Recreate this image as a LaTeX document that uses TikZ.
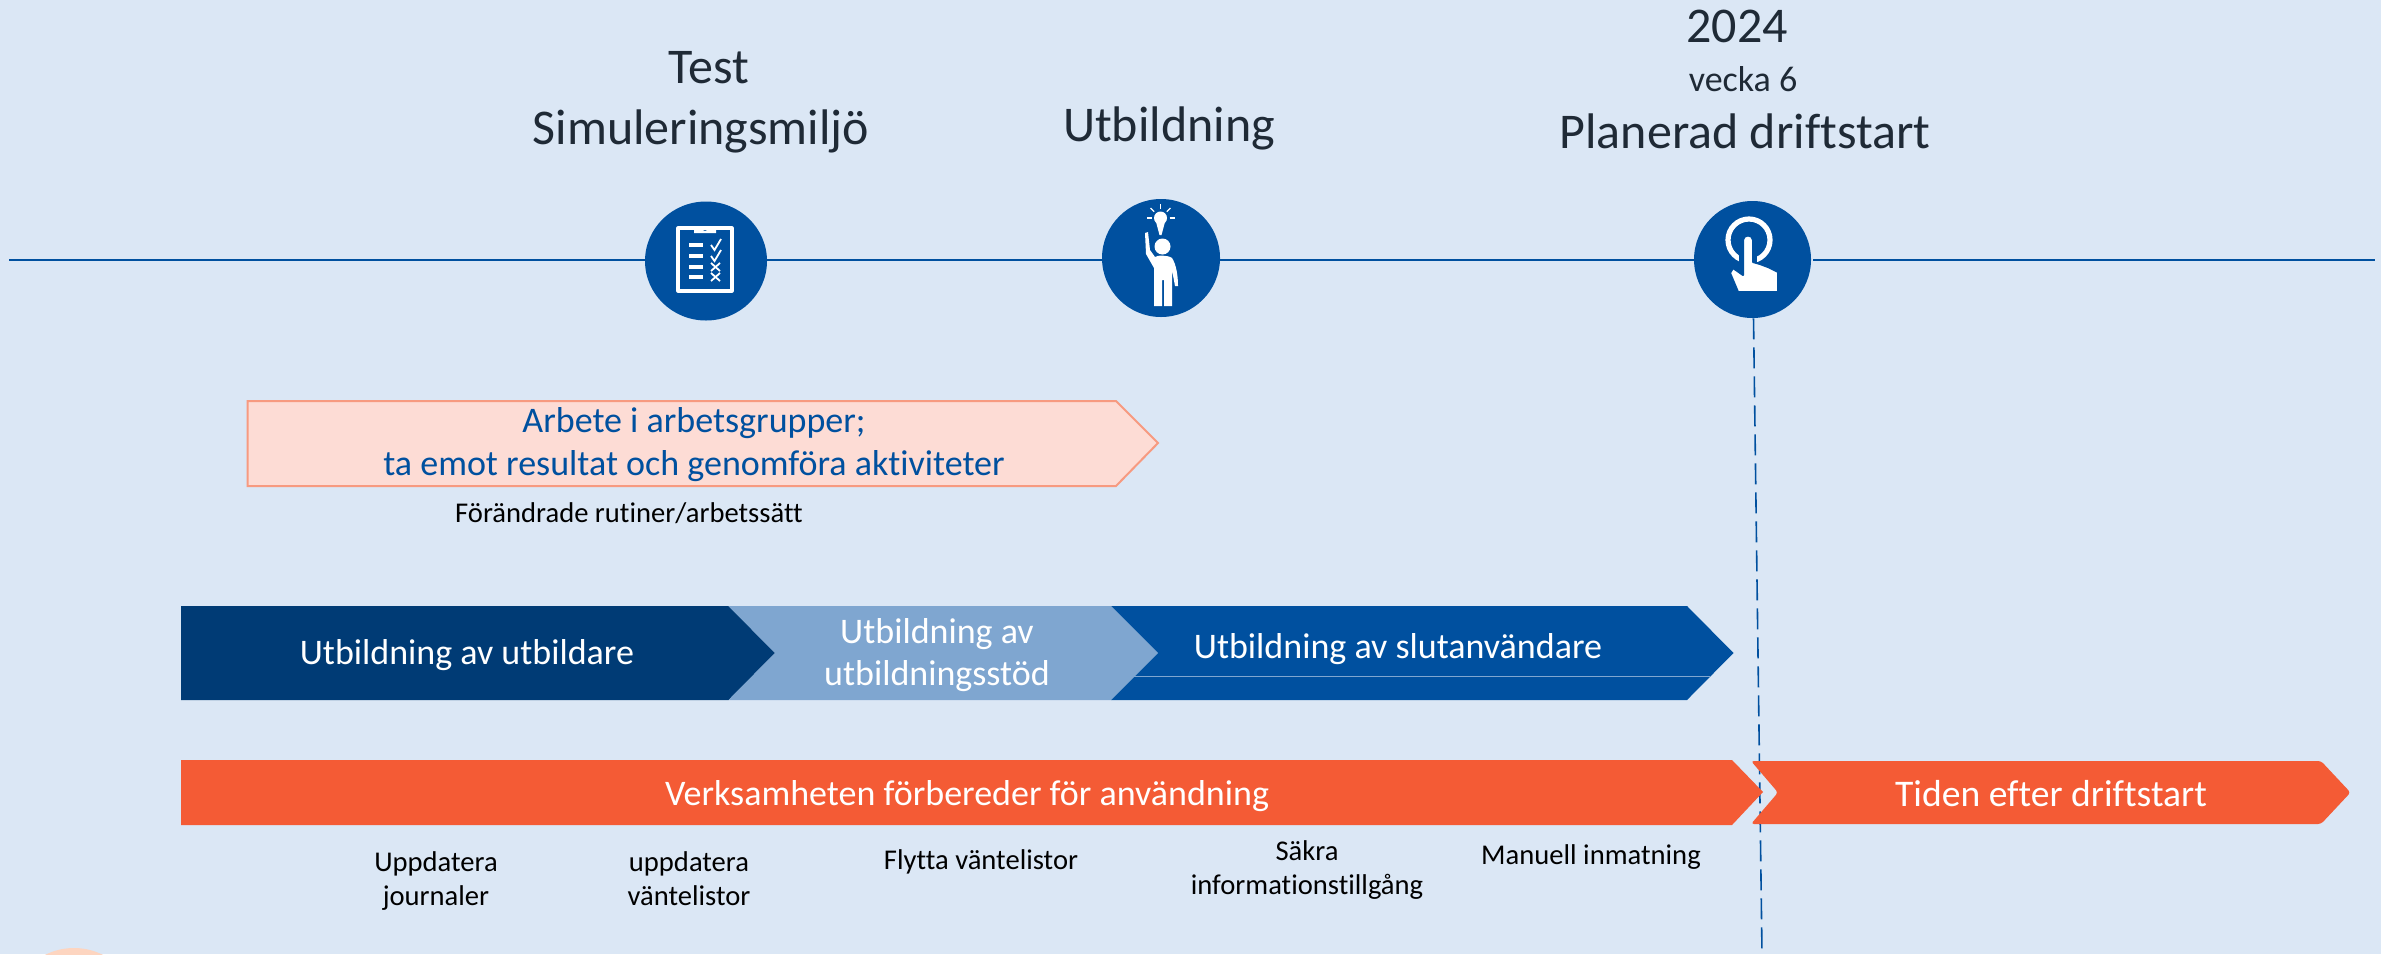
\documentclass[tikz,border=0pt]{standalone}
\usepackage{fontspec}
\setmainfont[Ligatures=NoCommon]{Carlito}
\definecolor{bg}{HTML}{DBE7F5}
\definecolor{navy}{HTML}{003B75}
\definecolor{sky}{HTML}{7FA6D0}
\definecolor{royal}{HTML}{00509F}
\definecolor{tang}{HTML}{F45B35}
\definecolor{blush}{HTML}{FDDCD5}
\definecolor{blushline}{HTML}{F79A80}
\definecolor{peach}{HTML}{FDD5C0}
\definecolor{ink}{HTML}{1F2A36}
\tikzset{
  x=0.5pt,y=-0.5pt,
  big/.style={font=\fontsize{25}{29}\selectfont,text=ink,inner sep=0,align=center},
  mid/.style={font=\fontsize{18}{21}\selectfont,text=ink,inner sep=0},
  barlabel/.style={font=\fontsize{18}{21}\selectfont,text=white,inner sep=0,align=center},
  pinklabel/.style={font=\fontsize{18}{21}\selectfont,text=royal,inner sep=0},
  small/.style={font=\fontsize{14.3}{17}\selectfont,text=black,inner sep=0,align=center},
  disc/.style={ellipse,fill=royal,inner sep=0,minimum width=#1},
  timeline/.style={royal,line width=1pt},
  dashline/.style={royal,line width=0.8pt,dash pattern=on 10.5pt off 4pt},
  ico/.style={white,line width=1.6pt},
}
\usetikzlibrary{shapes.geometric}
\begin{document}
\begin{tikzpicture}
\useasboundingbox (0,0) rectangle (2381,954);
\fill[bg] (0,0) rectangle (2381,954);
\begin{scope}
\clip (0,0) rectangle (2381,954);
\fill[peach] (74,1008) ellipse (62 and 60);
\end{scope}

% timeline
\coordinate (tlstart) at (9,259.5);
\coordinate (tlend) at (2375,259.5);
\coordinate (dashend) at (1762,954);
\node[disc=122pt/2,minimum height=119pt/2] (test) at (706,261) {};
\node[disc=118pt/2,minimum height=118pt/2] (utb) at (1161,258) {};
\node[disc=117pt/2,minimum height=117pt/2] (drift) at (1752.5,259.5) {};
\draw[timeline] (tlstart) -- (test.west |- tlstart);
\draw[timeline] (test.east |- tlstart) -- (utb.west |- tlstart);
\draw[timeline] (utb.east |- tlstart) -- (drift.west |- tlstart);
\draw[timeline] ([xshift=1pt]drift.east |- tlstart) -- (tlend);
\draw[dashline] ([xshift=0.5pt]drift.south) -- (dashend);

% clipboard icon
\draw[ico,line join=round] (678,228) rectangle (732,291);
\fill[white] (694,233) -- (694,226) -- (700,226) arc (180:0:5) -- (716,226) -- (716,233) -- cycle;
\foreach \yy in {245,256,267,277}{
  \fill[white] (689,\yy-2) rectangle (703,\yy+2);
}
\foreach \yy in {245,256}{
  \draw[white,line width=0.9pt] (711,\yy) -- (714.5,\yy+5) -- (721,\yy-6);
}
\foreach \yy in {267,277}{
  \draw[white,line width=0.9pt] (711,\yy-4) -- (720,\yy+4) (720,\yy-4) -- (711,\yy+4);
}

% person icon
\fill[white] (1162.5,246.5) circle (8);
\fill[white] (1155,257) .. controls (1157,255) and (1168,255) .. (1172,258)
  .. controls (1176,264) and (1178,275) .. (1178,286) -- (1175,286) -- (1172,270) -- (1172,306)
  -- (1164,306) -- (1164,280) -- (1162,280) -- (1162,306) -- (1154,306) -- (1154,268)
  -- (1146,254) -- (1145,233) -- (1148,232) -- (1150,250) -- cycle;
\fill[white] (1160.5,218) circle (6.5);
\fill[white] (1155.5,220) -- (1165.5,220) -- (1161.5,235) -- (1159.5,235) -- cycle;
\foreach \aa in {0,45,90,135,180}{
  \draw[white,line width=0.6pt] (1160.5,218) ++(-\aa:9) -- ++(-\aa:5);
}

% hand icon
\draw[white,line width=2.6pt] (1749,240) circle (21);
\fill[royal] (1739,238) rectangle (1757,275);
\fill[white,draw=royal,line width=1pt,line join=round]
  (1743,240) .. controls (1743,234) and (1753,234) .. (1753,240)
  -- (1753,262) -- (1760,264) -- (1768,267) -- (1778,272) -- (1778,292)
  -- (1738,292) -- (1730,273) -- (1733,268) -- (1743,275) -- cycle;

% titles
\node[big] (n2024) at (1737,26) {2024};
\node[mid] (vecka) at (1743,79) {vecka 6};
\node[big] (planerad) at (1745,131) {Planerad driftstart};
\node[big] (testlbl) at (709,68) {Test};
\node[big] (sim) at (701,131) {Simuleringsmiljö};
\node[big] (utblbl) at (1169,128) {Utbildning};

% pink bar
\draw[fill=blush,draw=blushline,line width=1pt] (247.5,401) -- (1116,401) -- (1158,443) -- (1116,486) -- (247.5,486) -- cycle;
\node[pinklabel] (p1) at (694,423) {Arbete i arbetsgrupper;};
\node[pinklabel] (p2) at (694,466) {ta emot resultat och genomföra aktiviteter};
\node[small] (forand) at (629,513) {Förändrade rutiner/arbetssätt};

% blue chevrons
\fill[royal] (1111,606) -- (1687,606) -- (1733.5,653) -- (1687,700) -- (1111,700) -- cycle;
\draw[sky,line width=0.3pt] (1134,676.7) -- (1710,676.7);
\fill[navy] (181,606) -- (728.5,606) -- (775,653) -- (728.5,700) -- (181,700) -- cycle;
\fill[sky] (728.5,606) -- (1111,606) -- (1158,653) -- (1111,700) -- (728.5,700) -- (775,653) -- cycle;
\node[barlabel] (b1) at (467,655) {Utbildning av utbildare};
\node[barlabel] (b2) at (937,655) {Utbildning av\\utbildningsstöd};
\node[barlabel] (b3) at (1398,649) {Utbildning av slutanvändare};

% orange chevrons
\fill[tang] (181,760) -- (1732,760) -- (1763,792) -- (1732,825) -- (181,825) -- cycle;
\fill[tang,rounded corners=1.5pt] (1751,761) -- (2321,761) -- (2350.5,792.5) -- (2321,824) -- (1751,824) -- (1778,792.5) -- cycle;
\node[barlabel] (o1) at (967,796) {Verksamheten förbereder för användning};
\node[barlabel,font=\fontsize{18.8}{22}\selectfont] (o2) at (2051,794) {Tiden efter driftstart};

% lower labels
\node[small] (u1) at (436,881) {Uppdatera\\journaler};
\node[small] (u2) at (689,879) {uppdatera\\väntelistor};
\node[small] (u3) at (981,862) {Flytta väntelistor};
\node[small] (u4) at (1307,870) {Säkra\\informationstillgång};
\node[small] (u5) at (1591,857) {Manuell inmatning};
\end{tikzpicture}
\end{document}
